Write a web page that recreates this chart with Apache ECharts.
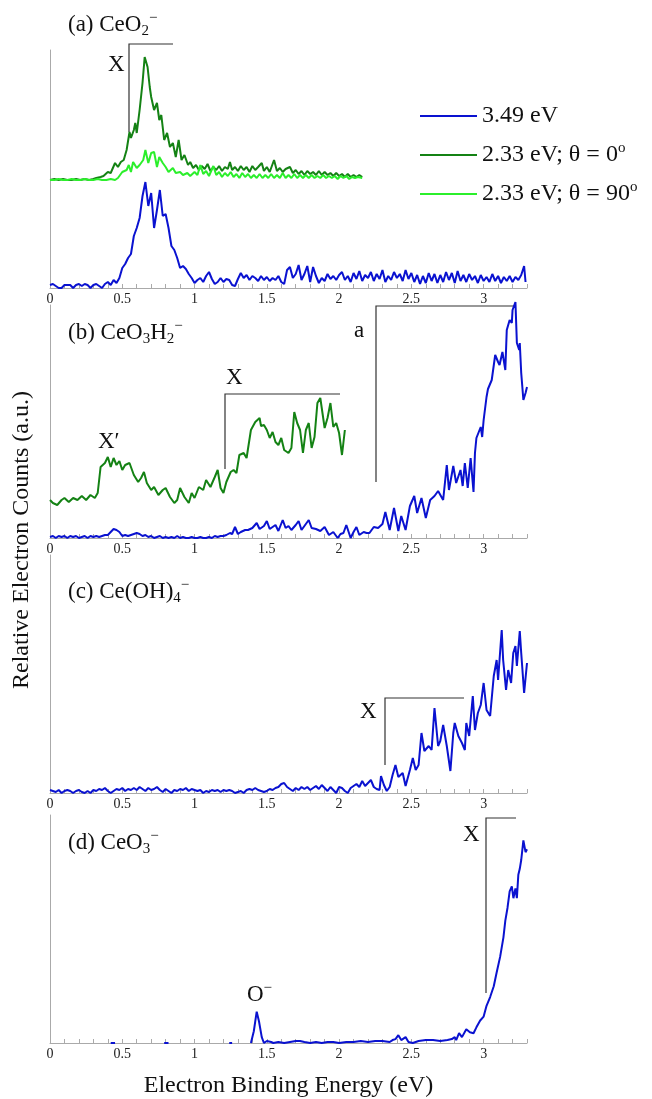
<!DOCTYPE html>
<html>
<head>
<meta charset="utf-8">
<script src="https://cdn.jsdelivr.net/npm/echarts@6/dist/echarts.min.js"></script>
<style>
  html, body { margin: 0; padding: 0; background: #fff; }
  #chart { width: 652px; height: 1099px; }
</style>
</head>
<body>
<div id="chart"></div>
<script>
// x: electron binding energy (eV), y: relative counts (a.u.)
const ceo2Blue = [[0,3],[0.02,4],[0.04,2],[0.06,0],[0.08,0],[0.1,3],[0.12,3],[0.14,3],[0.16,0],[0.18,3],[0.2,4],[0.22,2],[0.24,4],[0.26,3],[0.28,0],[0.3,3],[0.32,4],[0.34,2],[0.36,0],[0.38,4],[0.4,6],[0.42,3],[0.44,8],[0.46,5],[0.48,10],[0.5,20],[0.52,24],[0.54,30],[0.56,34],[0.58,52],[0.6,60],[0.62,70],[0.64,92],[0.66,106],[0.68,82],[0.7,95],[0.72,60],[0.74,78],[0.76,98],[0.78,72],[0.8,74],[0.82,60],[0.84,42],[0.86,38],[0.88,30],[0.9,20],[0.92,22],[0.94,19],[0.96,14],[0.98,10],[1,5],[1.02,8],[1.04,10],[1.06,6],[1.08,12],[1.1,16],[1.12,9],[1.14,4],[1.16,6],[1.18,10],[1.2,6],[1.22,9],[1.24,8],[1.26,3],[1.28,2],[1.3,9],[1.32,15],[1.34,10],[1.36,13],[1.38,8],[1.4,12],[1.42,10],[1.44,7],[1.46,12],[1.48,8],[1.5,11],[1.52,7],[1.54,10],[1.56,8],[1.58,12],[1.6,6],[1.62,4],[1.64,18],[1.66,21],[1.68,10],[1.7,14],[1.72,23],[1.74,8],[1.76,14],[1.78,22],[1.8,6],[1.82,21],[1.84,12],[1.86,5],[1.88,10],[1.9,7],[1.92,14],[1.94,9],[1.96,12],[1.98,8],[2,13],[2.02,16],[2.04,8],[2.06,12],[2.08,6],[2.1,15],[2.12,9],[2.14,17],[2.16,7],[2.18,13],[2.2,10],[2.22,16],[2.24,7],[2.26,14],[2.28,9],[2.3,18],[2.32,6],[2.34,12],[2.36,8],[2.38,16],[2.4,10],[2.42,14],[2.44,7],[2.46,18],[2.48,9],[2.5,15],[2.52,6],[2.54,13],[2.56,4],[2.58,12],[2.6,5],[2.62,15],[2.64,7],[2.66,14],[2.68,5],[2.7,13],[2.72,6],[2.74,16],[2.76,8],[2.78,15],[2.8,5],[2.82,17],[2.84,7],[2.86,13],[2.88,6],[2.9,14],[2.92,8],[2.94,12],[2.96,5],[2.98,13],[3,7],[3.02,11],[3.04,6],[3.06,14],[3.08,7],[3.1,12],[3.12,5],[3.14,11],[3.16,7],[3.18,12],[3.2,6],[3.22,11],[3.24,8],[3.26,13],[3.28,22],[3.29,6]];

const ceo2Green0 = [[0,108],[0.03,109],[0.06,108],[0.09,109],[0.12,108],[0.15,108],[0.18,109],[0.21,108],[0.24,109],[0.27,108],[0.3,109],[0.32,110],[0.35,111],[0.37,112],[0.4,116],[0.42,115],[0.45,125],[0.47,121],[0.49,126],[0.51,128],[0.53,138],[0.55,156],[0.56,150],[0.58,158],[0.59,165],[0.6,155],[0.62,178],[0.64,205],[0.655,231],[0.675,221],[0.69,201],[0.7,191],[0.72,178],[0.74,185],[0.756,168],[0.77,173],[0.79,148],[0.81,155],[0.83,141],[0.85,145],[0.87,131],[0.89,148],[0.91,128],[0.93,133],[0.955,123],[0.97,126],[0.99,120],[1.01,123],[1.03,118],[1.05,122],[1.07,119],[1.09,124],[1.11,117],[1.13,121],[1.15,118],[1.17,122],[1.19,117],[1.21,121],[1.23,119],[1.245,126],[1.26,118],[1.28,121],[1.3,117],[1.32,122],[1.34,118],[1.36,121],[1.38,116],[1.4,122],[1.42,118],[1.44,121],[1.465,125],[1.48,117],[1.5,121],[1.52,116],[1.55,128],[1.57,117],[1.59,120],[1.61,116],[1.63,119],[1.66,121],[1.68,115],[1.7,118],[1.72,114],[1.74,117],[1.76,113],[1.78,117],[1.8,114],[1.82,116],[1.84,113],[1.86,117],[1.88,113],[1.9,116],[1.92,113],[1.94,115],[1.96,112],[1.98,115],[2,112],[2.02,114],[2.04,111],[2.06,114],[2.08,111],[2.1,113],[2.12,111],[2.14,113],[2.16,111]];

const ceo2Green90 = [[0,108],[0.03,108],[0.06,109],[0.09,108],[0.12,108],[0.15,109],[0.18,108],[0.21,108],[0.24,109],[0.27,108],[0.3,108],[0.33,109],[0.36,108],[0.39,108],[0.42,109],[0.45,108],[0.47,110],[0.5,116],[0.53,118],[0.545,123],[0.56,116],[0.575,126],[0.6,120],[0.62,123],[0.645,128],[0.66,138],[0.68,125],[0.7,135],[0.72,136],[0.74,121],[0.756,131],[0.78,125],[0.8,121],[0.82,116],[0.85,120],[0.87,115],[0.9,116],[0.92,113],[0.95,115],[0.97,112],[1,116],[1.02,113],[1.04,123],[1.06,114],[1.08,117],[1.1,112],[1.13,122],[1.15,113],[1.17,116],[1.19,111],[1.21,115],[1.23,112],[1.25,116],[1.27,111],[1.29,114],[1.31,110],[1.33,115],[1.35,111],[1.37,114],[1.39,110],[1.41,113],[1.43,110],[1.45,114],[1.47,110],[1.49,113],[1.51,110],[1.53,114],[1.55,110],[1.57,113],[1.59,110],[1.61,115],[1.63,110],[1.65,113],[1.67,110],[1.69,114],[1.71,110],[1.73,113],[1.75,110],[1.77,113],[1.79,110],[1.81,113],[1.83,110],[1.85,112],[1.87,110],[1.89,113],[1.91,110],[1.93,112],[1.95,110],[1.97,112],[1.99,109],[2.01,112],[2.03,110],[2.05,112],[2.07,109],[2.09,111],[2.11,110],[2.13,111],[2.16,110]];

const ceo3h2Blue = [[0,1],[0.02,2],[0.04,0],[0.06,2],[0.08,1],[0.1,2],[0.12,0],[0.14,2],[0.16,1],[0.18,2],[0.2,0],[0.22,1],[0.24,2],[0.26,0],[0.28,2],[0.3,1],[0.32,2],[0.34,1],[0.36,2],[0.38,3],[0.4,3],[0.42,6],[0.44,9],[0.46,8],[0.48,6],[0.5,2],[0.52,3],[0.54,2],[0.56,3],[0.58,4],[0.6,5],[0.62,4],[0.64,2],[0.66,3],[0.68,1],[0.7,2],[0.72,0],[0.74,1],[0.76,2],[0.78,0],[0.8,1],[0.82,0],[0.84,1],[0.86,0],[0.88,2],[0.9,0],[0.92,1],[0.94,0],[0.96,0],[0.98,1],[1,0],[1.02,0],[1.04,1],[1.06,0],[1.08,0],[1.1,1],[1.12,0],[1.14,2],[1.16,1],[1.18,2],[1.2,2],[1.22,3],[1.245,5],[1.26,4],[1.28,11],[1.3,4],[1.32,6],[1.35,8],[1.37,8],[1.4,10],[1.43,15],[1.45,9],[1.48,12],[1.5,17],[1.52,9],[1.54,11],[1.56,13],[1.58,7],[1.61,18],[1.63,10],[1.65,12],[1.67,8],[1.7,13],[1.72,17],[1.74,8],[1.76,12],[1.79,18],[1.81,10],[1.84,9],[1.87,7],[1.9,11],[1.93,3],[1.96,6],[1.99,0],[2.01,4],[2.03,5],[2.05,13],[2.08,0],[2.1,6],[2.12,11],[2.14,3],[2.17,6],[2.19,5],[2.21,5],[2.24,11],[2.27,10],[2.3,14],[2.32,26],[2.35,8],[2.38,30],[2.41,7],[2.43,22],[2.46,8],[2.49,32],[2.52,42],[2.54,25],[2.57,40],[2.6,20],[2.63,38],[2.66,42],[2.685,47],[2.72,38],[2.745,73],[2.76,48],[2.79,72],[2.81,55],[2.84,68],[2.855,52],[2.87,75],[2.89,50],[2.91,80],[2.93,46],[2.94,85],[2.95,100],[2.98,111],[2.99,101],[3,118],[3.02,141],[3.03,149],[3.056,158],[3.08,183],[3.1,176],[3.11,173],[3.13,186],[3.15,168],[3.16,208],[3.18,218],[3.195,215],[3.2,228],[3.22,236],[3.23,195],[3.246,188],[3.25,195],[3.26,165],[3.275,138],[3.29,145],[3.3,151]];

const ceo3h2Green = [[0,38],[0.02,35],[0.05,33],[0.08,38],[0.1,40],[0.13,36],[0.16,40],[0.19,38],[0.22,42],[0.25,38],[0.28,43],[0.31,40],[0.33,45],[0.35,71],[0.38,75],[0.4,81],[0.42,71],[0.44,80],[0.46,73],[0.48,77],[0.5,68],[0.52,73],[0.55,75],[0.58,63],[0.61,56],[0.63,60],[0.65,66],[0.67,55],[0.7,48],[0.72,51],[0.75,43],[0.78,48],[0.8,50],[0.83,41],[0.86,35],[0.88,38],[0.9,50],[0.93,41],[0.96,35],[0.98,45],[1,40],[1.03,51],[1.06,48],[1.08,58],[1.11,51],[1.14,61],[1.16,68],[1.18,50],[1.2,45],[1.22,56],[1.25,66],[1.27,68],[1.29,65],[1.31,83],[1.34,85],[1.36,80],[1.39,108],[1.42,116],[1.45,120],[1.46,112],[1.48,113],[1.5,108],[1.52,100],[1.54,106],[1.56,96],[1.58,93],[1.6,100],[1.62,88],[1.65,85],[1.67,90],[1.69,126],[1.71,115],[1.73,108],[1.75,85],[1.77,108],[1.79,115],[1.81,90],[1.83,101],[1.85,135],[1.87,140],[1.89,120],[1.9,110],[1.92,120],[1.94,135],[1.96,111],[1.98,115],[2,105],[2.02,83],[2.04,108]];

const ceoh4Blue = [[0,3],[0.02,2],[0.04,1],[0.06,3],[0.08,0],[0.1,2],[0.12,3],[0.14,2],[0.16,0],[0.18,2],[0.2,3],[0.22,1],[0.24,0],[0.26,2],[0.28,0],[0.3,3],[0.32,2],[0.34,4],[0.36,3],[0.38,5],[0.4,2],[0.42,0],[0.44,2],[0.46,4],[0.48,3],[0.5,5],[0.52,2],[0.54,4],[0.56,3],[0.58,5],[0.6,3],[0.62,6],[0.64,4],[0.66,2],[0.68,5],[0.7,3],[0.72,4],[0.74,6],[0.76,3],[0.78,1],[0.8,4],[0.82,2],[0.84,0],[0.86,3],[0.88,2],[0.9,4],[0.92,3],[0.94,5],[0.96,2],[0.98,4],[1,3],[1.02,2],[1.04,3],[1.06,0],[1.08,2],[1.1,1],[1.12,3],[1.14,2],[1.16,3],[1.18,1],[1.2,3],[1.22,2],[1.24,3],[1.26,2],[1.28,0],[1.3,1],[1.32,2],[1.34,0],[1.36,3],[1.38,4],[1.4,3],[1.42,5],[1.44,3],[1.46,2],[1.48,1],[1.5,2],[1.52,4],[1.54,3],[1.56,5],[1.58,6],[1.6,9],[1.62,10],[1.64,6],[1.66,4],[1.68,2],[1.7,5],[1.72,3],[1.74,6],[1.76,4],[1.78,6],[1.8,3],[1.82,5],[1.84,7],[1.86,4],[1.88,8],[1.9,5],[1.92,2],[1.94,6],[1.96,3],[1.98,0],[2,6],[2.02,5],[2.04,2],[2.06,0],[2.08,5],[2.1,7],[2.12,9],[2.14,6],[2.16,12],[2.18,7],[2.2,10],[2.22,13],[2.24,6],[2.26,4],[2.28,3],[2.29,17],[2.31,8],[2.33,2],[2.35,6],[2.37,18],[2.39,28],[2.41,16],[2.42,15],[2.44,20],[2.46,7],[2.49,23],[2.51,35],[2.53,23],[2.55,28],[2.57,60],[2.59,42],[2.6,40],[2.62,47],[2.64,43],[2.66,85],[2.685,47],[2.7,52],[2.72,68],[2.745,47],[2.77,22],[2.79,60],[2.8,70],[2.825,57],[2.85,50],[2.87,43],[2.88,70],[2.9,57],[2.925,97],[2.94,63],[2.96,80],[2.98,88],[3,110],[3.02,83],[3.045,77],[3.07,117],[3.09,133],[3.1,113],[3.125,163],[3.135,133],[3.155,103],[3.17,123],[3.19,110],[3.205,140],[3.22,147],[3.23,127],[3.25,162],[3.26,140],[3.28,100],[3.3,130]];

const ceo3Blue = [[0.42,0],[0.45,0],[0.46,null],[0.79,0],[0.82,0],[0.83,null],[1.24,0],[1.26,0],[1.27,null],[1.39,0],[1.41,12],[1.42,22],[1.43,32],[1.446,22],[1.465,6],[1.48,0],[1.5,2],[1.51,3],[1.53,1],[1.545,0],[1.58,1],[1.62,0],[1.66,1],[1.7,2],[1.73,2],[1.76,1],[1.8,0],[1.84,1],[1.88,0],[1.92,1],[1.96,1],[2,0],[2.05,1],[2.1,1],[2.15,2],[2.2,1],[2.25,2],[2.3,2],[2.35,1],[2.37,3],[2.39,4],[2.41,8],[2.43,3],[2.46,6],[2.48,1],[2.51,0],[2.55,2],[2.6,3],[2.65,3],[2.7,2],[2.75,3],[2.78,4],[2.8,6],[2.81,3],[2.83,10],[2.85,6],[2.88,14],[2.905,11],[2.93,10],[2.95,16],[2.976,23],[3,27],[3.02,38],[3.045,47],[3.07,58],[3.09,72],[3.114,88],[3.137,108],[3.15,125],[3.165,138],[3.18,155],[3.195,160],[3.206,148],[3.22,158],[3.23,148],[3.24,172],[3.25,178],[3.26,187],[3.275,207],[3.29,195],[3.3,198]];

const legendNames = ['3.49 eV', '2.33 eV; θ = 0o', '2.33 eV; θ = 90o'];
const colors = ['#0a12d0', '#148214', '#2bef2b'];

const FONT = '"Liberation Serif", "Times New Roman", serif';
const panels = [
  { top: 50, height: 238 },
  { top: 305, height: 233 },
  { top: 555, height: 238 },
  { top: 815, height: 233 }
];

const chart = echarts.init(document.getElementById('chart'), null, { renderer: 'canvas' });

function xAxisFor(i) {
  const ax = {
    gridIndex: i,
    type: 'value',
    min: 0,
    max: 3.3,
    interval: 0.1,
    axisLine: { lineStyle: { color: '#aaa', width: 1 } },
    axisTick: { inside: true, length: 4, lineStyle: { color: '#aaa' } },
    splitLine: { show: false },
    axisLabel: {
      margin: 4,
      fontFamily: FONT,
      fontSize: 14,
      color: '#222',
      formatter: v => {
        const d = v * 2
        return Math.abs(d - Math.round(d)) < 1e-6 ? String(Math.round(d) / 2) : ''
      }
    }
  }
  if (i === 3) {
    ax.name = 'Electron Binding Energy (eV)'
    ax.nameLocation = 'middle'
    ax.nameGap = 31
    ax.nameTextStyle = { fontFamily: FONT, fontSize: 24, color: '#111' }
  }
  return ax
}

function yAxisFor(i) {
  return {
    gridIndex: i,
    type: 'value',
    min: 0,
    max: panels[i].height,
    axisLine: { show: true, lineStyle: { color: '#aaa', width: 1 } },
    axisTick: { show: false },
    axisLabel: { show: false },
    splitLine: { show: false }
  }
}

function lineSeries(name, data, color, idx) {
  return {
    name,
    type: 'line',
    xAxisIndex: idx,
    yAxisIndex: idx,
    data,
    showSymbol: false,
    symbol: 'none',
    clip: false,
    connectNulls: false,
    lineStyle: { width: 2, color },
    itemStyle: { color },
    emphasis: { disabled: true }
  }
}

const richText = {
  sub: { fontFamily: FONT, fontSize: 15, verticalAlign: 'bottom', lineHeight: 28 },
  sup: { fontFamily: FONT, fontSize: 15, verticalAlign: 'top', lineHeight: 28 }
}

function label(text, left, top) {
  return {
    text,
    left,
    top,
    padding: 0,
    textStyle: { fontFamily: FONT, fontSize: 23, fontWeight: 'normal', color: '#111', lineHeight: 28, rich: richText }
  }
}

function bracket(points) {
  return {
    type: 'polyline',
    shape: { points },
    style: { stroke: '#333', lineWidth: 1.2, fill: null },
    silent: true
  }
}

chart.setOption({
  animation: false,
  backgroundColor: '#fff',
  grid: panels.map(p => ({ left: 50, width: 477, top: p.top, height: p.height })),
  xAxis: panels.map((p, i) => xAxisFor(i)),
  yAxis: panels.map((p, i) => yAxisFor(i)),
  legend: {
    orient: 'vertical',
    left: 420,
    top: 104,
    padding: 0,
    itemWidth: 57,
    itemHeight: 2,
    itemGap: 13,
    icon: 'rect',
    selectedMode: false,
    data: legendNames,
    formatter: name => name.endsWith('o') ? `{t|${name.slice(0, -1)}}{s|o}` : `{t|${name}}`,
    textStyle: {
      fontFamily: FONT,
      fontSize: 24,
      color: '#111',
      rich: {
        t: { fontFamily: FONT, fontSize: 24, color: '#111', lineHeight: 28 },
        s: { fontFamily: FONT, fontSize: 15, color: '#111', verticalAlign: 'top', lineHeight: 28 }
      }
    }
  },
  title: [
    label('(a) CeO{sub|2}{sup|−}', 68, 11),
    label('(b) CeO{sub|3}H{sub|2}{sup|−}', 68, 319),
    label('(c) Ce(OH){sub|4}{sup|−}', 68, 578),
    label('(d) CeO{sub|3}{sup|−}', 68, 829),
    label('X', 108, 51),
    label('X′', 98, 428),
    label('X', 226, 364),
    label('a', 354, 317),
    label('X', 360, 698),
    label('X', 463, 821),
    label('O{sup|−}', 247, 981)
  ],
  graphic: [
    bracket([[129, 132], [129, 44], [173, 44]]),
    bracket([[225, 469], [225, 394], [340, 394]]),
    bracket([[376, 482], [376, 306], [515, 306]]),
    bracket([[385, 765], [385, 698], [464, 698]]),
    bracket([[486, 993], [486, 818], [516, 818]]),
    {
      type: 'text',
      x: 22,
      y: 540,
      rotation: Math.PI / 2,
      style: {
        text: 'Relative Electron Counts (a.u.)',
        font: '24px ' + FONT,
        fill: '#111',
        align: 'center',
        verticalAlign: 'middle'
      },
      silent: true
    }
  ],
  series: [
    lineSeries(legendNames[0], ceo2Blue, colors[0], 0),
    lineSeries(legendNames[1], ceo2Green0, colors[1], 0),
    lineSeries(legendNames[2], ceo2Green90, colors[2], 0),
    lineSeries(legendNames[0], ceo3h2Blue, colors[0], 1),
    lineSeries(legendNames[1], ceo3h2Green, colors[1], 1),
    lineSeries(legendNames[0], ceoh4Blue, colors[0], 2),
    lineSeries(legendNames[0], ceo3Blue, colors[0], 3)
  ]
})
</script>
</body>
</html>
